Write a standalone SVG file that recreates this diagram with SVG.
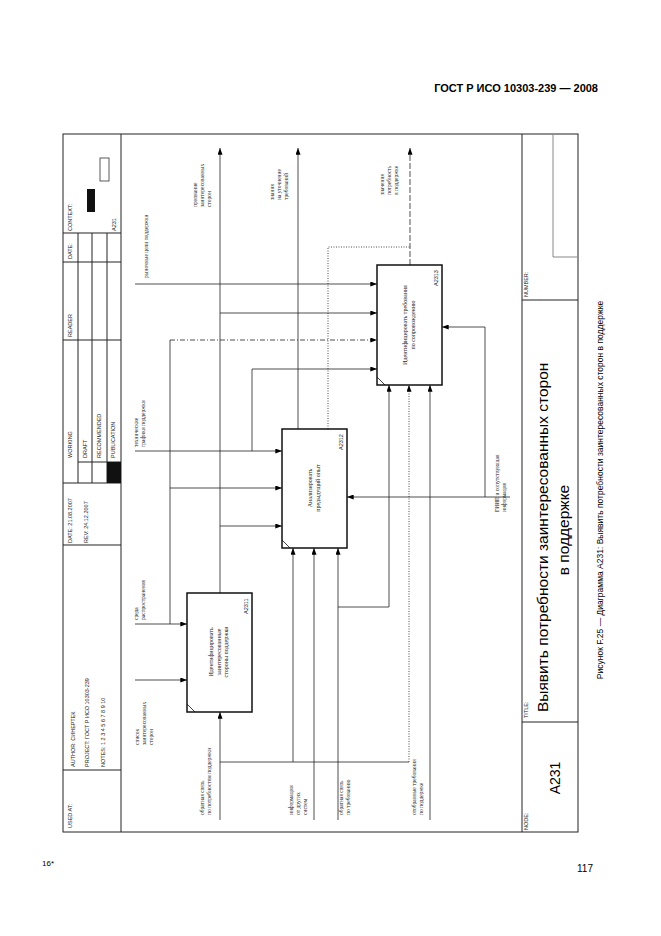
<svg xmlns="http://www.w3.org/2000/svg" width="661" height="936" viewBox="0 0 661 936">
<defs>
<marker id="ah" viewBox="0 0 8 6" refX="8" refY="3" markerWidth="7" markerHeight="5" orient="auto" markerUnits="userSpaceOnUse"><path d="M0,0 L8,3 L0,6 z" fill="#000"/></marker>
<style>
.fr{fill:none;stroke:#222;stroke-width:1}
.box{fill:#fff;stroke:#111;stroke-width:1.5}
.ln{fill:none;stroke:#222;stroke-width:0.8}
.ar{fill:none;stroke:#222;stroke-width:0.8;marker-end:url(#ah)}
.dot{stroke-dasharray:1 1.5}
.dd{stroke-dasharray:5 2 1 2}
.hd{font-family:"Liberation Sans",Arial,sans-serif;font-size:5.5px;fill:#222}
.lb{font-family:"Liberation Serif",serif;font-size:5.5px;fill:#222}
.bx{font-family:"Liberation Serif",serif;font-size:6px;fill:#222;text-anchor:middle}
</style>
</defs>
<rect width="661" height="936" fill="#fff"/>
<text x="598" y="92" font-family="Liberation Sans,Arial,sans-serif" font-size="11" font-weight="bold" text-anchor="end">ГОСТ Р ИСО 10303-239 — 2008</text>
<text x="42" y="866" font-family="Liberation Sans,Arial,sans-serif" font-size="8">16*</text>
<text x="577" y="872" font-family="Liberation Sans,Arial,sans-serif" font-size="10">117</text>
<text transform="translate(603,490) rotate(-90)" font-family="Liberation Sans,Arial,sans-serif" font-size="8.5" text-anchor="middle">Рисунок F.25 — Диаграмма A231: Выявить потребности заинтересованных сторон в поддержке</text>

<g id="frame">
<rect class="fr" x="63" y="134" width="515" height="698"/>
<line class="fr" x1="121" y1="134" x2="121" y2="832"/>
<line class="fr" x1="522" y1="134" x2="522" y2="832"/>
<line class="fr" x1="63" y1="233" x2="121" y2="233"/>
<line class="fr" x1="63" y1="262" x2="121" y2="262"/>
<line class="fr" x1="63" y1="340" x2="121" y2="340"/>
<line class="fr" x1="63" y1="483" x2="121" y2="483"/>
<line class="fr" x1="78" y1="462" x2="121" y2="462"/>
<line class="fr" x1="63" y1="545" x2="121" y2="545"/>
<line class="fr" x1="63" y1="770" x2="121" y2="770"/>
<line class="fr" x1="78" y1="233" x2="78" y2="483"/>
<line class="fr" x1="92" y1="233" x2="92" y2="483"/>
<line class="fr" x1="107" y1="233" x2="107" y2="483"/>
<rect x="107" y="462" width="14" height="21" fill="#111"/>
<rect x="87" y="189" width="8" height="23" fill="#111"/>
<rect x="100" y="158" width="9" height="23" fill="#fff" stroke="#333" stroke-width="0.8"/>
<text class="hd" transform="translate(72,828) rotate(-90)">USED AT:</text>
<text class="hd" transform="translate(75,767) rotate(-90)">AUTHOR: СИНЕРТЕК</text>
<text class="hd" transform="translate(89,767) rotate(-90)">PROJECT: ГОСТ Р ИСО 10303-239</text>
<text class="hd" transform="translate(105,767) rotate(-90)">NOTES: 1 2 3 4 5 6 7 8 9 10</text>
<text class="hd" transform="translate(72,543) rotate(-90)">DATE: 21.08.2007</text>
<text class="hd" transform="translate(88,543) rotate(-90)">REV: 24.12.2007</text>
<text class="hd" transform="translate(72,458) rotate(-90)">WORKING</text>
<text class="hd" transform="translate(87,458) rotate(-90)">DRAFT</text>
<text class="hd" transform="translate(101,458) rotate(-90)">RECOMMENDED</text>
<text class="hd" transform="translate(115,458) rotate(-90)">PUBLICATION</text>
<text class="hd" transform="translate(72,337) rotate(-90)">READER</text>
<text class="hd" transform="translate(72,259) rotate(-90)">DATE:</text>
<text class="hd" transform="translate(72,231) rotate(-90)">CONTEXT:</text>
<text class="hd" transform="translate(116,231) rotate(-90)">A231</text>
<line class="fr" x1="522" y1="722" x2="578" y2="722"/>
<line class="fr" x1="522" y1="300" x2="578" y2="300"/>
<polyline points="553,134 553,257 577,257" fill="none" stroke="#888" stroke-width="1"/>
<text class="hd" transform="translate(528,830) rotate(-90)">NODE:</text>
<text class="hd" transform="translate(528,718) rotate(-90)">TITLE:</text>
<text class="hd" transform="translate(528,297) rotate(-90)">NUMBER:</text>
<text transform="translate(560,778) rotate(-90)" font-family="Liberation Sans,Arial,sans-serif" font-size="14" text-anchor="middle">A231</text>
<text transform="translate(548,712) rotate(-90)" font-family="Liberation Sans,Arial,sans-serif" font-size="15.5">Выявить потребности  заинтересованных сторон</text>
<text transform="translate(569,530) rotate(-90)" font-family="Liberation Sans,Arial,sans-serif" font-size="15.5" text-anchor="middle">в поддержке</text>
</g>

<g id="connectors">
<path class="ar" d="M135,284 H377"/>
<path class="ar" d="M220,593 V148"/>
<path class="ar" d="M220,313 H377"/>
<path class="ar" d="M220,526 H282"/>
<path class="ar" d="M135,624 H187"/>
<path class="ln" d="M170,624 V340"/>
<path class="ar dd" d="M170,340 H377"/>
<path class="ar" d="M170,488 H282"/>
<path class="ar" d="M135,451 H282"/>
<path class="ar" d="M252,451 V369 H377"/>
<path class="ar" d="M135,680 H187"/>
<path class="ar" d="M298,429 V148"/>
<path class="ln dot" d="M328,429 V247 H410"/>
<path class="ar" d="M410,265 V148" stroke-dasharray="6 2"/>
<path class="ar" d="M220,820 V712"/>
<path class="ln" d="M220,762 H409"/>
<path class="ar dot" d="M409,762 V385"/>
<path class="ar" d="M293,762 V548"/>
<path class="ar" d="M314,820 V548"/>
<path class="ar" d="M338,820 V548"/>
<path class="ar" d="M338,607 H389 V385"/>
<path class="ar" d="M430,820 V385"/>
<path class="ar" d="M510,497 H347"/>
<path class="ar" d="M485,497 V327 H442"/>
</g>

<g id="labels">
<text class="lb" transform="translate(148,278) rotate(-90)">рыночные цели поддержки</text>
<text class="lb" transform="translate(138,447) rotate(-90)"><tspan x="0">технические</tspan><tspan x="0" dy="7">графики поддержки</tspan></text>
<text class="lb" transform="translate(138,620) rotate(-90)"><tspan x="0">среда</tspan><tspan x="0" dy="7">распространения</tspan></text>
<text class="lb" transform="translate(139,745) rotate(-90)"><tspan x="0">список</tspan><tspan x="0" dy="7">заинтересованных</tspan><tspan x="0" dy="7">сторон</tspan></text>
<text class="lb" transform="translate(197,207) rotate(-90)"><tspan x="0">признание</tspan><tspan x="0" dy="7">заинтересованных</tspan><tspan x="0" dy="7">сторон</tspan></text>
<text class="lb" transform="translate(274,200) rotate(-90)"><tspan x="0">знания</tspan><tspan x="0" dy="7">на уточнение</tspan><tspan x="0" dy="7">требований</tspan></text>
<text class="lb" transform="translate(384,195) rotate(-90)"><tspan x="0">значения</tspan><tspan x="0" dy="7">потребность</tspan><tspan x="0" dy="7">в поддержке</tspan></text>
<text class="lb" transform="translate(499,512) rotate(-90)"><tspan x="0">ГИИП и сопутствующая</tspan><tspan x="0" dy="7">информация</tspan></text>
<text class="lb" transform="translate(204,815) rotate(-90)"><tspan x="0">обратная связь</tspan><tspan x="0" dy="7">по потребностям поддержки</tspan></text>
<text class="lb" transform="translate(293,815) rotate(-90)"><tspan x="0">информации</tspan><tspan x="0" dy="7">от других</tspan><tspan x="0" dy="7">систем</tspan></text>
<text class="lb" transform="translate(343,815) rotate(-90)"><tspan x="0">обратная связь</tspan><tspan x="0" dy="7">по требованию</tspan></text>
<text class="lb" transform="translate(416,815) rotate(-90)"><tspan x="0">отобранные требования</tspan><tspan x="0" dy="7">по поддержке</tspan></text>
</g>

<g id="A2311">
<rect class="box" x="187" y="593" width="65" height="119"/>
<path d="M187,704 L195,712" stroke="#111" stroke-width="0.8"/>
<text class="bx" transform="translate(213,652) rotate(-90)"><tspan x="0">Идентифицировать</tspan><tspan x="0" dy="7.5">заинтересованные</tspan><tspan x="0" dy="7.5">стороны поддержки</tspan></text>
<text class="hd" transform="translate(248,614) rotate(-90)">A2311</text>
</g>
<g id="A2312">
<rect class="box" x="282" y="429" width="65" height="119"/>
<path d="M282,540 L290,548" stroke="#111" stroke-width="0.8"/>
<text class="bx" transform="translate(312,488) rotate(-90)"><tspan x="0">Анализировать</tspan><tspan x="0" dy="7.5">предыдущий опыт</tspan></text>
<text class="hd" transform="translate(343,450) rotate(-90)">A2312</text>
</g>
<g id="A2313">
<rect class="box" x="377" y="265" width="65" height="120"/>
<path d="M377,377 L385,385" stroke="#111" stroke-width="0.8"/>
<text class="bx" transform="translate(407,325) rotate(-90)"><tspan x="0">Идентифицировать требования</tspan><tspan x="0" dy="7.5">по сопровождению</tspan></text>
<text class="hd" transform="translate(438,286) rotate(-90)">A2313</text>
</g>
</svg>
